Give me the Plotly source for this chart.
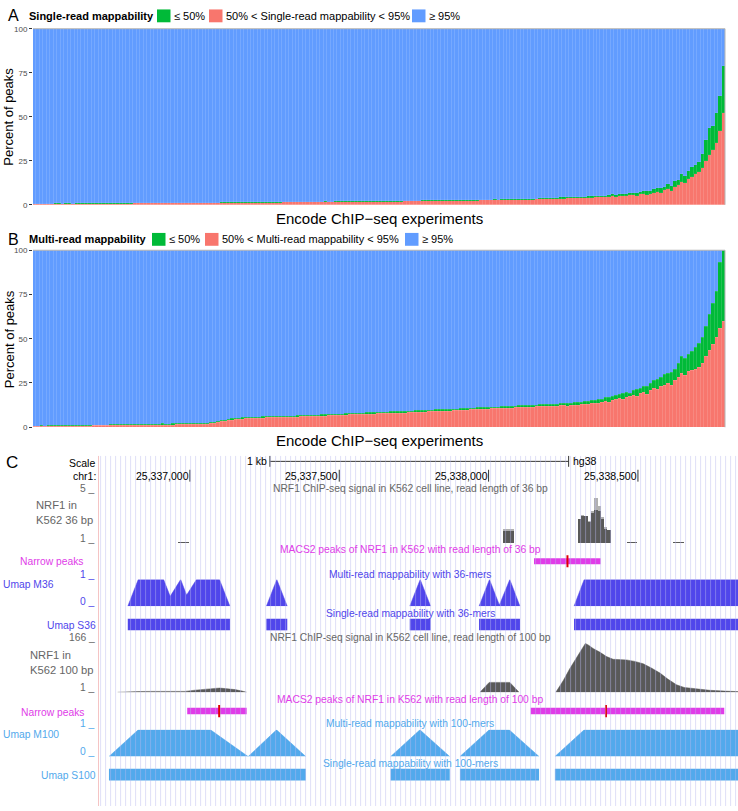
import plotly.graph_objects as go

W, H = 738, 811


def px(x):
    return x / W


def py(y):
    return 1 - y / H


# ---------------- Panel A / B data (percent of peaks per ENCODE experiment) ----------------
experiment_index = list(range(200))

single_mid = [  # 50% < single-read mappability < 95%
    0.4, 0.4, 0.5, 0.5, 0.5, 0.5, 0.6, 0.6, 0.6, 0.6,
    0.6, 0.6, 0.7, 0.7, 0.7, 0.7, 0.7, 0.7, 0.7, 0.7,
    0.7, 0.8, 0.8, 0.8, 0.8, 0.8, 0.8, 0.8, 0.8, 0.9,
    0.9, 0.9, 0.9, 0.9, 0.9, 0.9, 0.9, 0.9, 1.0, 1.0,
    1.0, 1.0, 1.0, 1.0, 1.0, 1.0, 1.0, 1.0, 1.0, 1.1,
    1.1, 1.1, 1.1, 1.1, 1.2, 1.2, 1.2, 1.2, 1.2, 1.2,
    1.3, 1.3, 1.3, 1.3, 1.3, 1.3, 1.4, 1.4, 1.4, 1.4,
    1.4, 1.4, 1.5, 1.5, 1.5, 1.5, 1.5, 1.5, 1.6, 1.6,
    1.6, 1.6, 1.6, 1.7, 1.7, 1.7, 1.7, 1.7, 1.8, 1.8,
    1.8, 1.8, 1.8, 1.8, 1.9, 1.9, 1.9, 1.9, 1.9, 1.9,
    2.0, 2.0, 2.0, 2.0, 2.0, 2.0, 2.0, 2.1, 2.1, 2.1,
    2.1, 2.1, 2.2, 2.2, 2.2, 2.2, 2.2, 2.3, 2.3, 2.3,
    2.3, 2.4, 2.4, 2.4, 2.4, 2.5, 2.5, 2.5, 2.5, 2.6,
    2.6, 2.6, 2.6, 2.7, 2.7, 2.7, 2.8, 2.8, 2.9, 2.9,
    2.9, 3.0, 3.0, 3.1, 3.1, 3.2, 3.2, 3.3, 3.4, 3.5,
    3.5, 3.6, 3.6, 3.7, 3.8, 3.8, 3.9, 4.0, 4.0, 4.1,
    4.2, 4.2, 4.3, 4.5, 4.3, 4.6, 4.7, 4.9, 4.6, 5.0,
    5.2, 5.0, 5.5, 5.7, 5.3, 6.0, 6.2, 5.8, 6.5, 7.0,
    7.6, 6.9, 8.5, 9.0, 8.2, 10.0, 11.5, 13.0, 12.5, 15.0,
    16.0, 17.5, 19.0, 21.0, 25.0, 28.5, 31.0, 35.0, 42.0, 52.0,
]
single_low = [  # single-read mappability <= 50%
    0.2, 0.3, 0.2, 0.3, 0.3, 0.2, 0.3, 0.3, 0.2, 0.3,
    0.3, 0.2, 0.3, 0.3, 0.3, 0.2, 0.3, 0.3, 0.3, 0.2,
    0.3, 0.3, 0.2, 0.3, 0.3, 0.3, 0.3, 0.2, 0.3, 0.3,
    0.3, 0.3, 0.3, 0.2, 0.3, 0.3, 0.3, 0.3, 0.3, 0.3,
    0.3, 0.2, 0.3, 0.3, 0.3, 0.3, 0.3, 0.3, 0.2, 0.3,
    0.3, 0.3, 0.3, 0.3, 0.4, 0.3, 0.3, 0.3, 0.3, 0.3,
    0.3, 0.3, 0.4, 0.3, 0.3, 0.3, 0.3, 0.4, 0.3, 0.3,
    0.3, 0.4, 0.3, 0.3, 0.3, 0.4, 0.3, 0.3, 0.4, 0.3,
    0.3, 0.3, 0.4, 0.3, 0.4, 0.3, 0.3, 0.4, 0.3, 0.4,
    0.3, 0.4, 0.3, 0.4, 0.3, 0.4, 0.4, 0.3, 0.4, 0.4,
    0.3, 0.4, 0.4, 0.4, 0.3, 0.4, 0.4, 0.4, 0.4, 0.3,
    0.4, 0.4, 0.4, 0.4, 0.5, 0.4, 0.4, 0.4, 0.4, 0.5,
    0.4, 0.4, 0.5, 0.4, 0.4, 0.5, 0.4, 0.5, 0.4, 0.5,
    0.5, 0.4, 0.5, 0.5, 0.4, 0.5, 0.5, 0.5, 0.5, 0.5,
    0.5, 0.6, 0.5, 0.5, 0.6, 0.5, 0.6, 0.6, 0.5, 0.6,
    0.6, 0.6, 0.7, 0.6, 0.7, 0.7, 0.6, 0.8, 0.7, 0.7,
    0.8, 0.7, 0.9, 0.8, 1.0, 0.8, 0.9, 1.1, 1.0, 1.2,
    1.0, 1.3, 1.1, 1.4, 1.5, 1.2, 1.6, 1.9, 1.4, 2.0,
    1.8, 2.6, 2.0, 3.0, 2.4, 3.5, 2.8, 4.7, 4.0, 4.5,
    5.5, 5.0, 5.5, 8.0, 12.0, 15.0, 14.0, 17.0, 20.0, 27.0,
]
multi_mid = [  # 50% < multi-read mappability < 95%
    0.4, 0.4, 0.5, 0.5, 0.5, 0.6, 0.6, 0.6, 0.6, 0.7,
    0.7, 0.7, 0.7, 0.8, 0.8, 0.8, 0.8, 0.9, 0.9, 0.9,
    0.9, 1.0, 1.0, 1.0, 1.0, 1.1, 1.1, 1.1, 1.1, 1.2,
    1.2, 1.2, 1.2, 1.3, 1.3, 1.3, 1.3, 1.4, 1.4, 1.4,
    1.4, 1.5, 1.5, 1.5, 1.5, 1.6, 1.6, 1.7, 1.7, 1.8,
    1.9, 2.1, 2.4, 2.8, 3.2, 3.6, 3.9, 4.2, 4.5, 4.6,
    4.8, 4.9, 5.0, 5.1, 5.2, 5.2, 5.3, 5.4, 5.4, 5.5,
    5.5, 5.6, 5.6, 5.7, 5.8, 5.8, 5.9, 6.0, 6.0, 6.1,
    6.2, 6.2, 6.3, 6.4, 6.5, 6.6, 6.6, 6.7, 6.8, 6.9,
    7.0, 7.1, 7.1, 7.2, 7.3, 7.4, 7.5, 7.6, 7.6, 7.7,
    7.8, 7.8, 7.9, 8.0, 8.0, 8.1, 8.2, 8.2, 8.3, 8.4,
    8.5, 8.5, 8.6, 8.7, 8.8, 8.9, 9.0, 9.0, 9.1, 9.2,
    9.3, 9.4, 9.5, 9.6, 9.7, 9.8, 9.9, 10.0, 10.1, 10.2,
    10.3, 10.4, 10.5, 10.5, 10.6, 10.7, 10.8, 10.9, 11.0, 11.1,
    11.2, 11.3, 11.3, 11.4, 11.5, 11.6, 11.7, 11.8, 11.8, 11.9,
    12.0, 11.6, 12.2, 12.3, 11.8, 12.5, 12.6, 12.4, 12.9, 13.1,
    13.0, 13.5, 13.8, 13.4, 14.2, 14.8, 14.0, 15.3, 15.8, 16.5,
    15.9, 17.0, 17.5, 18.2, 17.3, 19.0, 19.8, 18.6, 21.0, 22.0,
    21.5, 23.0, 24.0, 25.0, 23.8, 26.5, 28.0, 30.7, 29.5, 31.5,
    32.0, 33.0, 34.0, 36.0, 40.0, 43.6, 47.0, 51.0, 56.0, 60.0,
]
multi_low = [  # multi-read mappability <= 50%
    0.3, 0.3, 0.4, 0.3, 0.4, 0.4, 0.3, 0.4, 0.4, 0.4,
    0.4, 0.4, 0.5, 0.4, 0.4, 0.5, 0.4, 0.5, 0.4, 0.5,
    0.5, 0.4, 0.5, 0.5, 0.5, 0.4, 0.5, 0.5, 0.5, 0.5,
    0.5, 0.5, 0.5, 0.6, 0.5, 0.5, 0.5, 0.6, 0.5, 0.5,
    0.6, 0.5, 0.6, 0.5, 0.6, 0.6, 0.5, 0.6, 0.6, 0.6,
    0.6, 0.6, 0.6, 0.6, 0.7, 0.6, 0.6, 0.7, 0.6, 0.7,
    0.6, 0.7, 0.7, 0.6, 0.7, 0.7, 0.7, 0.6, 0.7, 0.7,
    0.7, 0.7, 0.8, 0.7, 0.7, 0.7, 0.8, 0.7, 0.7, 0.8,
    0.7, 0.8, 0.7, 0.8, 0.8, 0.7, 0.8, 0.8, 0.8, 0.7,
    0.8, 0.8, 0.8, 0.8, 0.9, 0.8, 0.8, 0.8, 0.9, 0.8,
    0.8, 0.9, 0.8, 0.9, 0.8, 0.9, 0.9, 0.8, 0.9, 0.9,
    0.9, 0.9, 0.8, 0.9, 0.9, 0.9, 1.0, 0.9, 0.9, 0.9,
    0.9, 1.0, 0.9, 0.9, 1.0, 0.9, 1.0, 0.9, 1.0, 1.0,
    0.9, 1.0, 1.0, 1.0, 0.9, 1.0, 1.0, 1.1, 1.0, 1.0,
    1.0, 1.1, 1.0, 1.1, 1.0, 1.1, 1.1, 1.0, 1.1, 1.1,
    1.2, 1.6, 1.2, 1.3, 1.9, 1.3, 1.4, 1.8, 1.4, 1.5,
    1.8, 1.6, 1.7, 2.4, 1.9, 2.0, 3.0, 2.2, 2.5, 2.3,
    3.2, 2.6, 2.0, 2.8, 3.9, 3.0, 3.3, 4.8, 4.0, 4.5,
    5.5, 5.0, 6.0, 5.7, 7.5, 6.5, 8.0, 9.3, 9.5, 10.0,
    11.0, 12.0, 13.5, 15.0, 17.0, 20.0, 23.0, 26.0, 37.0, 40.0,
]
y_ticks = [0, 25, 50, 75, 100]
legend_A = ["Single-read mappability", "≤ 50%", "50% < Single-read mappability < 95%", "≥ 95%"]
legend_B = ["Multi-read mappability", "≤ 50%", "50% < Multi-read mappability < 95%", "≥ 95%"]
x_title = "Encode ChIP−seq experiments"
y_title = "Percent of peaks"

# ---------------- Panel C data (UCSC browser, hg38 chr1) ----------------
window = [25336699, 25338835]
coord_ticks = [25337000, 25337500, 25338000, 25338500]
coord_labels = ["25,337,000", "25,337,500", "25,338,000", "25,338,500"]
scale_bar = [25337268, 25338268]

# NRF1 ChIP-seq signal, 36 bp reads (view limits 1..5)
sig36_start = [25336961, 25338049, 25338298, 25338309, 25338320, 25338334, 25338343, 25338353,
               25338365, 25338375, 25338386, 25338398, 25338462, 25338617]
sig36_end = [25336997, 25338086, 25338309, 25338320, 25338334, 25338343, 25338353, 25338365,
             25338375, 25338386, 25338398, 25338409, 25338496, 25338654]
sig36_mean = [1.08, 2.0, 3.0, 3.2, 3.2, 2.7, 3.5, 3.7, 3.6, 3.0, 2.2, 2.1, 1.08, 1.08]
sig36_max = [1.08, 2.15, 3.0, 3.3, 3.2, 2.8, 3.6, 4.7, 4.0, 3.1, 2.3, 2.1, 1.08, 1.08]

# MACS2 narrow peaks
peaks36_start, peaks36_end, peaks36_summit = [25338152], [25338375], [25338264]
peaks100_start = [25336991, 25338141]
peaks100_end = [25337190, 25338789]
peaks100_summit = [25337098, 25338393]

# Umap multi-read mappability, 36-mers
m36_pos = [
    [25336792, 25336827, 25336912, 25336934, 25336969, 25336989, 25337022, 25337099, 25337134],
    [25337256, 25337291, 25337326],
    [25337736, 25337771, 25337806],
    [25337968, 25338003, 25338036, 25338071, 25338105],
    [25338286, 25338320, 25338840],
]
m36_val = [
    [0, 1, 1, 0.37, 1, 0.42, 1, 1, 0],
    [0, 1, 0],
    [0, 1, 0],
    [0, 1, 0.05, 1, 0],
    [0, 1, 1],
]
s36_start = [25336792, 25337256, 25337736, 25337968, 25338286]
s36_end = [25337134, 25337326, 25337806, 25338105, 25338840]

# NRF1 ChIP-seq signal, 100 bp reads (view limits 1..166)
sig100_pos = [
    [25336758, 25336780, 25336799, 25336830, 25336866, 25336900, 25336933, 25336960, 25336983,
     25337017, 25337050, 25337084, 25337100, 25337117, 25337151, 25337175, 25337190],
    [25337971, 25338002, 25338071, 25338102],
    [25338225, 25338250, 25338272, 25338300, 25338324, 25338335, 25338350, 25338372, 25338395,
     25338417, 25338440, 25338462, 25338490, 25338518, 25338545, 25338574, 25338600, 25338629,
     25338655, 25338685, 25338710, 25338741, 25338790, 25338835],
]
sig100_val = [
    [1, 2.5, 3, 3.5, 4, 4.5, 5, 4.5, 4, 8, 12, 14, 15, 14, 10, 5, 1],
    [1, 34, 34, 1],
    [1, 40, 80, 125, 164, 158, 147, 135, 120, 111, 110, 109, 104, 96, 82, 65, 45, 26, 17, 13,
     10, 7.6, 5, 3.3],
]

# Umap multi-read mappability, 100-mers
m100_pos = [
    [25336729, 25336827, 25337069, 25337195, 25337290, 25337388],
    [25337672, 25337770, 25337870],
    [25337904, 25338002, 25338069, 25338169],
    [25338222, 25338320, 25338840],
]
m100_val = [
    [0, 1, 1, 0, 1, 0],
    [0, 1, 0],
    [0, 1, 1, 0],
    [0, 1, 1],
]
s100_start = [25336729, 25337672, 25337904, 25338222]
s100_end = [25337388, 25337870, 25338169, 25338840]

# ---------------- styles ----------------
C_LOW, C_MID, C_HIGH = "#00BA38", "#F8766D", "#619CFF"
C_MAG, C_RED = "#e03ce8", "#e00000"
C_M36, C_M100 = "#5046eb", "#52a9ec"
C_GRAY_TXT, C_SIG = "#666666", "#595959"
FONT = "Liberation Sans, Arial, sans-serif"

fig = go.Figure()

# ---------------- Panels A, B ----------------
for xa, ya, mid, low in (("x", "y", single_mid, single_low), ("x2", "y2", multi_mid, multi_low)):
    high = [round(100 - m - l, 2) for m, l in zip(mid, low)]
    for vals, col in ((mid, C_MID), (low, C_LOW), (high, C_HIGH)):
        fig.add_trace(go.Bar(x=experiment_index, y=vals, xaxis=xa, yaxis=ya,
                             marker=dict(color=col, line=dict(width=0.4, color="rgba(255,255,255,0.18)")),
                             showlegend=False, hoverinfo="skip"))


# ---------------- Panel C ----------------
def centers(starts, ends):
    return [(s + e) / 2 for s, e in zip(starts, ends)], [e - s for s, e in zip(starts, ends)]


c36, w36 = centers(sig36_start, sig36_end)
fig.add_trace(go.Bar(x=c36, y=sig36_max, width=w36, xaxis="x3", yaxis="y3",
                     marker=dict(color="#b0b0b0", line=dict(width=0)), showlegend=False))
fig.add_trace(go.Bar(x=c36, y=sig36_mean, width=w36, xaxis="x3", yaxis="y12",
                     marker=dict(color=C_SIG, line=dict(width=0)), showlegend=False))


def add_peaks(starts, ends, summits, ya, thick):
    for s, e in zip(starts, ends):
        fig.add_trace(go.Scatter(x=[s, e], y=[0, 0], mode="lines", xaxis="x3", yaxis=ya,
                                 line=dict(color=C_MAG, width=thick), showlegend=False))
    for m in summits:
        fig.add_trace(go.Scatter(x=[m, m], y=[-0.88, 0.88], mode="lines", xaxis="x3", yaxis=ya,
                                 line=dict(color=C_RED, width=2), showlegend=False))


def add_blocks(starts, ends, ya, col, thick):
    for s, e in zip(starts, ends):
        fig.add_trace(go.Scatter(x=[s, e], y=[0, 0], mode="lines", xaxis="x3", yaxis=ya,
                                 line=dict(color=col, width=thick), showlegend=False))


def add_area(pos_list, val_list, ya, col):
    for p, v in zip(pos_list, val_list):
        fig.add_trace(go.Scatter(x=p, y=v, mode="lines", fill="tozeroy", fillcolor=col,
                                 xaxis="x3", yaxis=ya, line=dict(color=col, width=0.5),
                                 showlegend=False))


add_peaks(peaks36_start, peaks36_end, peaks36_summit, "y4", 6)
add_area(m36_pos, m36_val, "y5", C_M36)
add_blocks(s36_start, s36_end, "y6", C_M36, 11.6)
add_area(sig100_pos, sig100_val, "y7", C_SIG)
add_peaks(peaks100_start, peaks100_end, peaks100_summit, "y8", 6.6)
add_area(m100_pos, m100_val, "y9", C_M100)
add_blocks(s100_start, s100_end, "y10", C_M100, 11.7)
# dummy trace spanning whole panel C (full-height subplot)
fig.add_trace(go.Scatter(x=[window[0]], y=[0], xaxis="x3", yaxis="y11", mode="markers",
                         marker=dict(opacity=0), showlegend=False, hoverinfo="skip"))


def dom(top, bottom):
    return [py(bottom), py(top)]


hidden = dict(visible=False, showgrid=False, zeroline=False, fixedrange=True)
layout = dict(
    width=W, height=H, autosize=False,
    margin=dict(l=0, r=0, t=0, b=0, pad=0),
    paper_bgcolor="white", plot_bgcolor="rgba(0,0,0,0)",
    barmode="stack", bargap=0, showlegend=False,
    font=dict(family=FONT, color="#000000"),
    xaxis=dict(domain=[px(33), px(725)], anchor="y", range=[-0.5, 199.5], visible=False),
    xaxis2=dict(domain=[px(33), px(725)], anchor="y2", range=[-0.5, 199.5], visible=False),
    xaxis3=dict(domain=[px(100), 1], anchor="y11", range=window, visible=False, showgrid=False),
)
for name, top, bottom in (("yaxis", 25, 203), ("yaxis2", 249, 428)):
    layout[name] = dict(domain=dom(top, bottom), range=[0, 100], tickvals=y_ticks,
                        ticks="outside", ticklen=3, tickcolor="#333333", tickwidth=1,
                        tickfont=dict(size=8, color="#4d4d4d"), showgrid=False,
                        zeroline=False, showline=False, anchor="x" if name == "yaxis" else "x2")
tracks = {
    "yaxis3": (495, 545, [1, 5]),
    "yaxis12": (495, 545, [1, 5]),
    "yaxis4": (556.5, 570.5, [-1, 1]),
    "yaxis5": (582, 609, [0, 1]),
    "yaxis6": (620, 635, [-1, 1]),
    "yaxis7": (646, 696, [1, 166]),
    "yaxis8": (708, 722, [-1, 1]),
    "yaxis9": (734, 761, [0, 1]),
    "yaxis10": (772.2, 786.2, [-1, 1]),
    "yaxis11": (457, 811, [-1, 1]),
}
for name, (top, bottom, rng) in tracks.items():
    layout[name] = dict(domain=dom(top, bottom), range=rng, anchor="x3", **hidden)
fig.update_layout(**layout)

shapes = []
annotations = []


def text(x, y, s, size, color="#000000", xanchor="left", yanchor="middle", **kw):
    annotations.append(dict(x=px(x), y=py(y), xref="paper", yref="paper", text=s,
                            showarrow=False, xanchor=xanchor, yanchor=yanchor,
                            font=dict(size=size, color=color, family=FONT), **kw))


def rect(x0, y0, x1, y1, col):
    shapes.append(dict(type="rect", xref="paper", yref="paper", x0=px(x0), x1=px(x1),
                       y0=py(y1), y1=py(y0), fillcolor=col, line=dict(width=0)))


# panel frames (top and right borders)
for xa, ya in (("x", "y"), ("x2", "y2")):
    shapes.append(dict(type="line", xref=f"{xa} domain", yref=f"{ya} domain", x0=0, x1=1, y0=1, y1=1,
                       line=dict(color="#b3b3b3", width=1)))
    shapes.append(dict(type="line", xref=f"{xa} domain", yref=f"{ya} domain", x0=1, x1=1, y0=0, y1=1,
                       line=dict(color="#b3b3b3", width=1)))

# legends A / B
for letter, ly, labels, sq, tx in (
        ("A", 12, legend_A, (157, 209, 412), (172, 224, 427)),
        ("B", 238, legend_B, (152, 205, 405), (167, 220, 420))):
    text(6, ly, letter, 16)
    text(27, ly, "<b>" + labels[0] + "</b>", 11)
    for x0, col in zip(sq, (C_LOW, C_MID, C_HIGH)):
        rect(x0, ly - 6.5, x0 + 13.5, ly + 6.5, col)
    for x0, lab in zip(tx, labels[1:]):
        text(x0, ly, lab, 11)

for cy, ty in ((114, 217), (339, 441)):
    text(9, cy, y_title, 13, xanchor="center", textangle=-90)
    text(379, ty, x_title, 15, xanchor="center")

# ---------------- Panel C decorations ----------------
text(4, 464, "C", 17)
text(97, 464, "Scale", 10.5, xanchor="right")
text(98, 477, "chr1:", 10.5, xanchor="right")
annotations.append(dict(x=scale_bar[0], y=py(462), xref="x3", yref="paper", text="1 kb",
                        showarrow=False, xanchor="right", yanchor="middle", xshift=-1,
                        font=dict(size=10.5, family=FONT, color="#000")))
annotations.append(dict(x=scale_bar[1], y=py(462), xref="x3", yref="paper", text="hg38",
                        showarrow=False, xanchor="left", yanchor="middle", xshift=2,
                        font=dict(size=10.5, family=FONT, color="#000")))
shapes.append(dict(type="line", xref="x3", yref="paper", x0=scale_bar[0], x1=scale_bar[1],
                   y0=py(462.5), y1=py(462.5), line=dict(color="#333", width=1)))
for b in scale_bar:
    shapes.append(dict(type="line", xref="x3", yref="paper", x0=b, x1=b, y0=py(457), y1=py(468),
                       line=dict(color="#333", width=1)))
for t, lab in zip(coord_ticks, coord_labels):
    shapes.append(dict(type="line", xref="x3", yref="paper", x0=t, x1=t, y0=py(471), y1=py(483),
                       line=dict(color="#333", width=1)))
    annotations.append(dict(x=t, y=py(477), xref="x3", yref="paper", text=lab, showarrow=False,
                            xanchor="right", yanchor="middle", xshift=1,
                            font=dict(size=10.5, family=FONT, color="#000")))

# base-position guide lines
g = window[0] + 2
while g < window[1]:
    shapes.append(dict(type="line", xref="x3", yref="paper", x0=g, x1=g, y0=0, y1=py(457),
                       line=dict(color="rgba(185,185,240,0.45)", width=1), layer="above"))
    g += 16.74
# left divider
shapes.append(dict(type="line", xref="paper", yref="paper", x0=px(98.5), x1=px(98.5), y0=0,
                   y1=py(457), line=dict(color="#f5c4c4", width=1)))

TX = 410
text(TX, 490, "NRF1 ChIP-seq signal in K562 cell line, read length of 36 bp", 10.3, C_GRAY_TXT, "center")
text(TX, 552, "MACS2 peaks of NRF1 in K562 with read length of 36 bp", 10.3, C_MAG, "center")
text(TX, 577, "Multi-read mappability with 36-mers", 10.3, C_M36, "center")
text(TX, 616, "Single-read mappability with 36-mers", 10.3, C_M36, "center")
text(TX, 641, "NRF1 ChIP-seq signal in K562 cell line, read length of 100 bp", 10.3, C_GRAY_TXT, "center")
text(TX, 703, "MACS2 peaks of NRF1 in K562 with read length of 100 bp", 10.3, C_MAG, "center")
text(TX, 728, "Multi-read mappability with 100-mers", 10.3, C_M100, "center")
text(TX, 768, "Single-read mappability with 100-mers", 10.3, C_M100, "center")

text(97, 490, "5 _", 10.3, C_GRAY_TXT, "right")
text(97, 540, "1 _", 10.3, C_GRAY_TXT, "right")
text(95, 514, "NRF1 in<br>K562 36 bp", 11.2, C_GRAY_TXT, "right", align="left")
text(86, 564, "Narrow peaks", 10.3, C_MAG, "right")
text(97, 577, "1 _", 10.3, C_M36, "right")
text(0.5, 587, "Umap M36", 10.3, C_M36, "left")
text(97, 604, "0 _", 10.3, C_M36, "right")
text(98, 628, "Umap S36", 10.3, C_M36, "right")
text(97, 641, "166 _", 10.3, C_GRAY_TXT, "right")
text(95, 666, "NRF1 in<br>K562 100 bp", 11.2, C_GRAY_TXT, "right", align="left")
text(97, 691, "1 _", 10.3, C_GRAY_TXT, "right")
text(87, 716, "Narrow peaks", 10.3, C_MAG, "right")
text(97, 728, "1 _", 10.3, C_M100, "right")
text(0.5, 739, "Umap M100", 10.3, C_M100, "left")
text(97, 756, "0 _", 10.3, C_M100, "right")
text(98, 780, "Umap S100", 10.3, C_M100, "right")

fig.update_layout(shapes=shapes, annotations=annotations)
fig.write_html("out.html", config={"displayModeBar": False},
               post_script="document.body.style.margin='0px';document.body.style.overflow='hidden';")
